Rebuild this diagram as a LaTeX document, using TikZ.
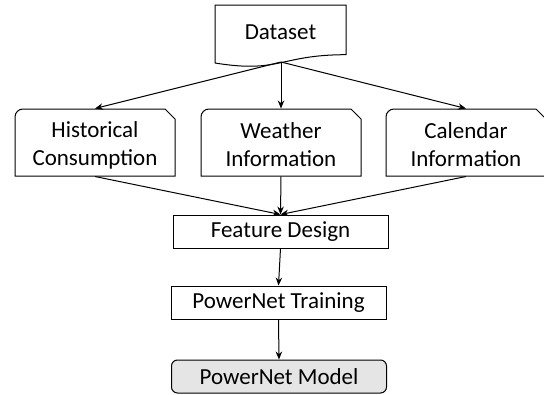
\documentclass[tikz,border=0pt]{standalone}
\usepackage{fontspec}
\setmainfont{Carlito}
\usetikzlibrary{arrows.meta}
\begin{document}
\begin{tikzpicture}[x=1pt,y=-1pt,
  line width=1pt,
  txt/.style={inner sep=0pt,align=center,font=\fontsize{23}{28}\selectfont},
  flat/.style={txt,draw,minimum width=215pt,minimum height=33pt},
  term/.style={flat,fill=black!10,rounded corners=6pt},
  arr/.style={-{Stealth[length=8pt,width=6.5pt]}}]
\useasboundingbox (0,0) rectangle (544,394);

% document shape on top
\draw[fill=white] (215,5) -- (346,5) -- (346,54.7)
  .. controls (280,54.7) and (280,73.6) .. (215,63) -- cycle;
\node[txt] (data) at (280.5,32) {Dataset};
\coordinate (dout) at (281,62);

% three source boxes: rounded top-left, snipped top-right
\foreach \n/\cx/\t in {hist/95/Historical\\Consumption,
                       weat/281/Weather\\Information,
                       cal/466/Calendar\\Information}{
  \draw (\cx-80,176) -- (\cx-80,117) arc[start angle=180,end angle=270,radius=8]
        -- (\cx+70,109) -- (\cx+80,119) -- (\cx+80,176) -- cycle;
  \node[txt,minimum width=160pt,minimum height=67pt] (\n) at (\cx,142.5) {};
  \node[txt] (\n-label) at (\cx,145) {\t};
}

\node[flat] (feat) at (280.5,231.5) {Feature Design};
\node[flat] (train) at (278.5,302.5) {PowerNet Training};
\node[term] (model) at (279,376.5) {PowerNet Model};

\draw[arr] (dout) -- (hist.north);
\draw[arr] (dout) -- (weat.north);
\draw[arr] (dout) -- (cal.north);
\draw[arr] (hist.south) -- (feat.north);
\draw[arr] (weat.south) -- (feat.north);
\draw[arr] (cal.south) -- (feat.north);
\draw[arr] (feat.south) -- (train.north);
\draw[arr] (train.south) -- (model.north);
\end{tikzpicture}
\end{document}
